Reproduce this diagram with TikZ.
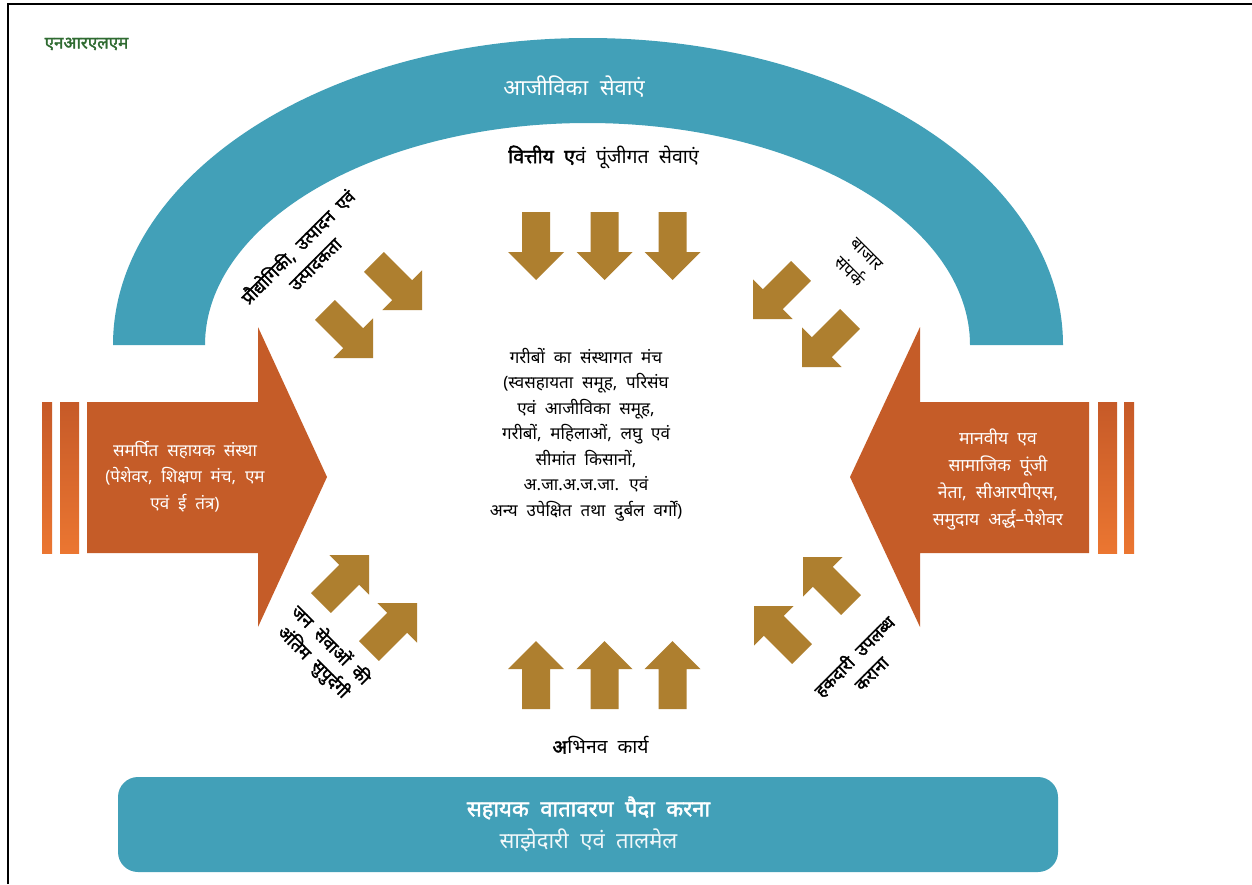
\documentclass[tikz,border=0pt]{standalone}
\usepackage{fontspec}
\setmainfont{Noto Sans}[Script=Devanagari, WordSpace=2, BoldFont={Noto Sans}, BoldFeatures={FakeBold=2}]
\definecolor{teal1}{HTML}{42A0B8}
\definecolor{gold}{HTML}{AE7F2F}
\definecolor{orng}{HTML}{C55C28}
\definecolor{orngD}{HTML}{C65A28}
\definecolor{orngL}{HTML}{EB7631}
\definecolor{green1}{HTML}{2F6B31}
\tikzset{
  garrow/.pic={\fill[gold] (0,0) -- (-28pt,28pt) -- (-28pt,14pt) -- (-68pt,14pt) -- (-68pt,-14pt) -- (-28pt,-14pt) -- (-28pt,-28pt) -- cycle;},
  stripe/.style={top color=orngD, bottom color=orngL},
  body/.style={font=\fontsize{17}{25.5}\selectfont, align=center, inner sep=0pt},
  wbody/.style={body, text=white},
  diag/.style={font=\fontsize{17.5}{24}\selectfont\bfseries, align=center, inner sep=0pt},
  diagl/.style={font=\fontsize{17}{24}\selectfont, align=center, inner sep=0pt},
}
\begin{document}
\begin{tikzpicture}[x=1pt,y=-1pt]
\useasboundingbox (0,0) rectangle (1252,884);
\fill[white] (0,0) rectangle (1252,884);
% frame
\draw[line width=1.6pt] (8,884) -- (8,4) -- (1252,4);
% arch
\fill[teal1] (113,345) arc[start angle=180,end angle=0,x radius=475pt,y radius=307pt]
  -- (970,345) arc[start angle=0,end angle=180,x radius=382.5pt,y radius=222pt] -- cycle;
% left orange arrow
\shade[stripe] (42,402) rectangle (52,553);
\shade[stripe] (60,402) rectangle (79,553);
\fill[orng] (87,402) -- (258,402) -- (258,327) -- (327,477) -- (258,627) -- (258,553) -- (87,553) -- cycle;
% right orange arrow
\shade[stripe] (1098,402) rectangle (1117,553);
\shade[stripe] (1124,402) rectangle (1134,553);
\fill[orng] (1089,402) -- (920,402) -- (920,327) -- (850,477) -- (920,627) -- (920,553) -- (1089,553) -- cycle;
% gold arrows
\foreach \x in {536,604.5,672.5} {
  \path (\x,280) pic[rotate=-90]{garrow};
  \path (\x,641) pic[rotate=90]{garrow};
}
\path (422,310) pic[rotate=-45]{garrow};
\path (373,358) pic[rotate=-45]{garrow};
\path (753,319) pic[rotate=-135]{garrow};
\path (802,367) pic[rotate=-135]{garrow};
\path (369,555) pic[rotate=45]{garrow};
\path (417,603) pic[rotate=45]{garrow};
\path (803,557) pic[rotate=135]{garrow};
\path (754,606) pic[rotate=135]{garrow};
% bottom bar
\fill[teal1, rounded corners=20pt] (118,777) rectangle (1058,872);
% texts
\node[font=\fontsize{17}{20}\selectfont\bfseries, text=green1, inner sep=0pt] (nrlm) at (86.5,44) {एनआरएलएम};
\node[font=\fontsize{22}{26}\selectfont, text=white, inner sep=0pt] (ajee) at (574,87) {आजीविका सेवाएं};
\node[font=\fontsize{19.5}{22}\selectfont, inner sep=0pt] (vitt) at (603.5,157) {\textbf{वित्तीय ए}वं पूंजीगत सेवाएं};
\node[font=\fontsize{19.3}{22}\selectfont, inner sep=0pt] (abhi) at (600.5,745) {\textbf{अ}भिनव कार्य};
\node[body] (center) at (586,434.5) {गरीबों का संस्थागत मंच\\(स्वसहायता समूह, परिसंघ\\एवं आजीविका समूह,\\गरीबों, महिलाओं, लघु एवं\\सीमांत किसानों,\\अ.जा.अ.ज.जा. एवं\\अन्य उपेक्षित तथा दुर्बल वर्गों)};
\node[wbody, font=\fontsize{17}{26.5}\selectfont] (left) at (185,476.5) {समर्पित सहायक संस्था\\(पेशेवर, शिक्षण मंच, एम\\एवं ई तंत्र)};
\node[wbody, font=\fontsize{17.5}{26.7}\selectfont] (right) at (998,479.5) {मानवीय एव\\सामाजिक पूंजी\\नेता, सीआरपीएस,\\समुदाय अर्द्ध–पेशेवर};
\node[diag, rotate=45] (tech) at (306,255) {प्रौद्योगिकी, उत्पादन एवं\\उत्पादकता};
\node[diagl, rotate=-45] (bazar) at (858,263) {बाजार\\संपर्क};
\node[diag, rotate=-45] (jan) at (322,654) {जन सेवाओं की\\अंतिम सुपुर्दगी};
\node[diag, rotate=45] (hak) at (862,664) {हकदारी उपलब्ध\\कराना};
\node[font=\fontsize{22}{26}\selectfont\bfseries, text=white, inner sep=0pt] (env) at (588.5,808) {सहायक वातावरण पैदा करना};
\node[font=\fontsize{22}{26}\selectfont, text=white!92!teal1, inner sep=0pt] (part) at (588.5,840) {साझेदारी एवं तालमेल};
\end{tikzpicture}
\end{document}
